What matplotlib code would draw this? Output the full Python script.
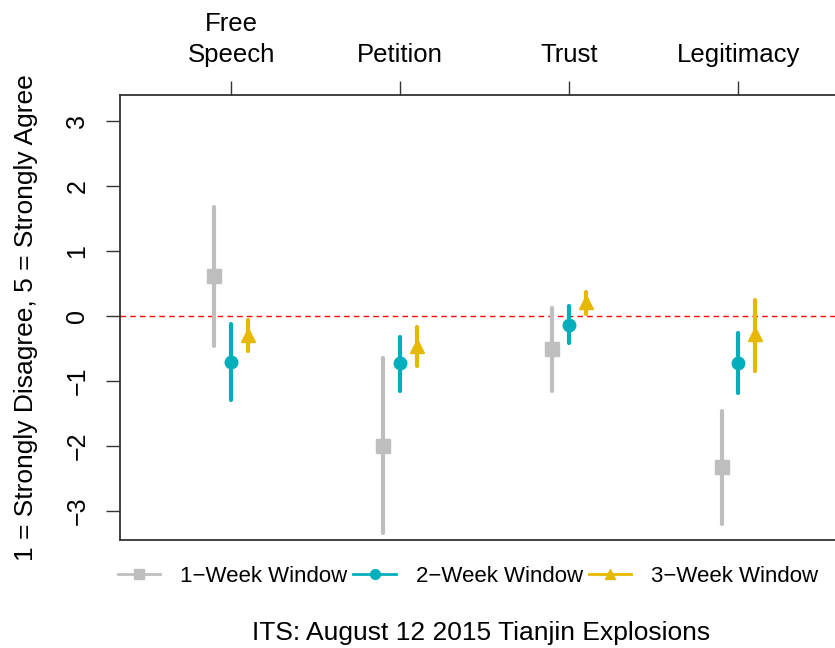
import numpy as np
import matplotlib.pyplot as plt

plt.rcParams['font.family'] = ['Liberation Sans', 'DejaVu Sans']

# outcome categories (top axis)
categories = ["Free\nSpeech", "Petition", "Trust", "Legitimacy"]

# point estimates and interval bounds for each window
week1_est = [0.62, -2.00, -0.51, -2.32]
week1_lo = [-0.46, -3.34, -1.16, -3.20]
week1_hi = [1.68, -0.65, 0.12, -1.47]

week2_est = [-0.71, -0.73, -0.14, -0.73]
week2_lo = [-1.30, -1.16, -0.42, -1.18]
week2_hi = [-0.12, -0.32, 0.15, -0.26]

week3_est = [-0.30, -0.46, 0.22, -0.28]
week3_lo = [-0.54, -0.77, 0.03, -0.85]
week3_hi = [-0.06, -0.17, 0.36, 0.25]

series = [
    ("1\u2212Week Window", week1_est, week1_lo, week1_hi, "#BEBEBE", "s", 9.5, -0.1),
    ("2\u2212Week Window", week2_est, week2_lo, week2_hi, "#00AFBB", "o", 9, 0.0),
    ("3\u2212Week Window", week3_est, week3_lo, week3_hi, "#E7B800", "^", 10, 0.1),
]

fig = plt.figure(figsize=(8.35, 6.48), dpi=100)
ax = fig.add_axes([120 / 835, 1 - 540 / 648, 1 - 120 / 835 + 0.01, (540 - 95) / 648])

x = np.arange(1, len(categories) + 1)
handles = []
for name, est, lo, hi, col, mk, ms, off in series:
    for xi, l, h in zip(x + off, lo, hi):
        ax.plot([xi, xi], [l, h], color=col, lw=3, solid_capstyle='round', zorder=2)
    ax.plot(x + off, est, linestyle='none', marker=mk, color=col, markersize=ms, zorder=3)
    handles.append(plt.Line2D([], [], color=col, lw=2, marker=mk, markersize=7, label=name))

ax.axhline(0, color='red', lw=1, ls=(0, (4, 3)), zorder=1)

ax.set_xlim(0.343, 4.62)
ax.set_ylim(-3.45, 3.4)

ax.xaxis.tick_top()
ax.set_xticks(x)
ax.set_xticklabels(categories, fontsize=18.5, linespacing=1.4)
ax.set_yticks([-3, -2, -1, 0, 1, 2, 3])
ax.set_yticklabels(["\u22123", "\u22122", "\u22121", "0", "1", "2", "3"], fontsize=18,
                   rotation=90, va='center')
ax.tick_params(axis='both', length=10, width=1, color='#333333')
ax.tick_params(axis='x', pad=10)
ax.tick_params(axis='y', pad=12)
for s in ['left', 'top', 'bottom']:
    ax.spines[s].set_color('#333333')
    ax.spines[s].set_linewidth(1.3)
ax.spines['right'].set_visible(False)

ax.set_ylabel("1 = Strongly Disagree, 5 = Strongly Agree", fontsize=19, labelpad=20)

fig.legend(handles=handles, loc='center left', bbox_to_anchor=(118 / 835, 1 - 576 / 648),
           ncol=3, frameon=False, fontsize=16, handlelength=1.9, handletextpad=0.9,
           columnspacing=0.27, borderaxespad=0, borderpad=0)

fig.text(481 / 835, 1 - 633 / 648, "ITS: August 12 2015 Tianjin Explosions",
         ha='center', va='center', fontsize=19)

fig.savefig("out.png", dpi=100)
